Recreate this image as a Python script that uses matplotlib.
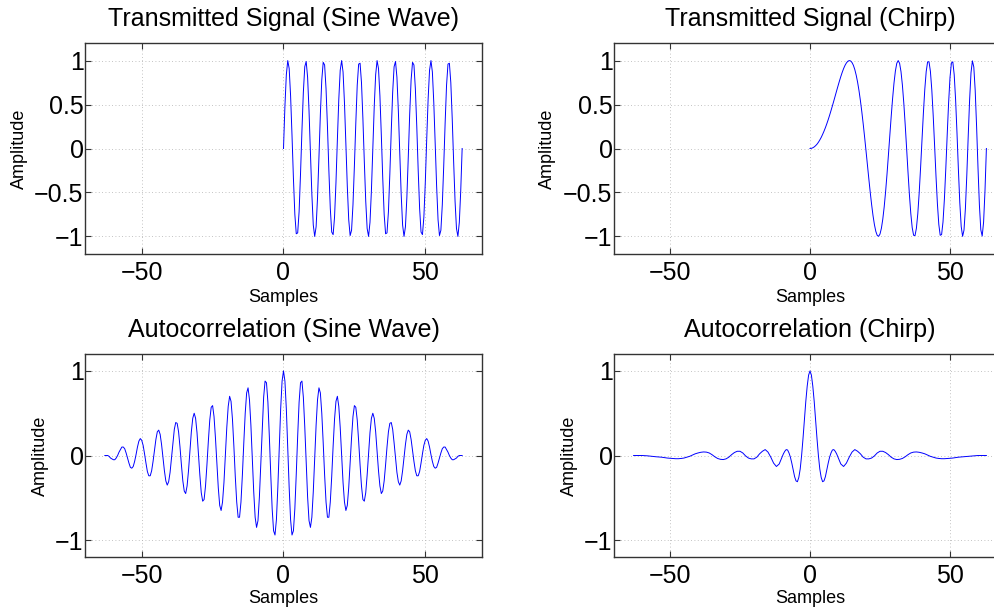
#!/usr/bin/env python3

import numpy as np
import matplotlib
matplotlib.use('Agg')
from matplotlib import pyplot as plt
from matplotlib.ticker import FuncFormatter

plt.rcParams['font.family'] = ['Liberation Sans', 'DejaVu Sans']

# transmitted pulses, read at half-sample steps over samples 0..63
t = np.arange(0, 63.5, 0.5)

sine_tx = [
  0.00, 0.48, 0.84, 1.00, 0.91, 0.60, 0.15, -0.34, -0.75, -0.97,
  -0.96, -0.72, -0.29, 0.20, 0.64, 0.93, 0.99, 0.81, 0.43, -0.05,
  -0.52, -0.87, -1.00, -0.89, -0.56, -0.10, 0.39, 0.78, 0.98, 0.95,
  0.68, 0.25, -0.25, -0.68, -0.95, -0.98, -0.78, -0.39, 0.10, 0.56,
  0.89, 1.00, 0.87, 0.52, 0.05, -0.43, -0.81, -0.99, -0.93, -0.64,
  -0.20, 0.29, 0.72, 0.96, 0.97, 0.75, 0.34, -0.15, -0.60, -0.91,
  -1.00, -0.84, -0.48,
  0.00, 0.48, 0.84, 1.00, 0.91, 0.60, 0.15, -0.34, -0.75, -0.97,
  -0.96, -0.72, -0.29, 0.20, 0.64, 0.93, 0.99, 0.81, 0.43, -0.05,
  -0.52, -0.87, -1.00, -0.89, -0.56, -0.10, 0.39, 0.78, 0.98, 0.95,
  0.68, 0.25, -0.25, -0.68, -0.95, -0.98, -0.78, -0.39, 0.10, 0.56,
  0.89, 1.00, 0.87, 0.52, 0.05, -0.43, -0.81, -0.99, -0.93, -0.64,
  -0.20, 0.29, 0.72, 0.96, 0.97, 0.75, 0.34, -0.15, -0.60, -0.91,
  -1.00, -0.84, -0.48,
  0.00]

chirp_tx = [
  0.000, 0.002, 0.008, 0.018, 0.032, 0.049, 0.071, 0.097, 0.126, 0.160,
  0.197, 0.237, 0.281, 0.328, 0.378, 0.431, 0.485, 0.541, 0.598, 0.655,
  0.711, 0.766, 0.818, 0.866, 0.909, 0.945, 0.973, 0.992, 1.000, 0.996,
  0.978, 0.946, 0.898, 0.834, 0.754, 0.658, 0.545, 0.419, 0.280, 0.131,
  -0.025, -0.184, -0.342, -0.495, -0.636, -0.762, -0.865, -0.942, -0.988, -0.999,
  -0.973, -0.907, -0.803, -0.663, -0.491, -0.293, -0.077, 0.146, 0.365, 0.569,
  0.745, 0.882, 0.970, 1.000, 0.969, 0.874, 0.721, 0.516, 0.271, 0.004,
  -0.268, -0.523, -0.740, -0.900, -0.987, -0.991, -0.907, -0.741, -0.503, -0.215,
  0.098, 0.405, 0.674, 0.875, 0.985, 0.987, 0.878, 0.667, 0.375, 0.034,
  -0.315, -0.628, -0.863, -0.987, -0.979, -0.836, -0.575, -0.229, 0.155, 0.518,
  0.807, 0.973, 0.986, 0.840, 0.555, 0.174, -0.241, -0.617, -0.887, -0.999,
  -0.928, -0.683, -0.305, 0.135, 0.551, 0.861, 0.997, 0.927, 0.660, 0.249,
  -0.219, -0.643, -0.924, -0.996, -0.836, -0.477, 0.000]

# autocorrelations are symmetric: values for lag >= 0 only
sine_acf_half = [
  1.00, 0.88, 0.55, 0.09, -0.38, -0.76, -0.94, -0.89, -0.63, -0.22,
  0.23, 0.63, 0.86, 0.88, 0.69, 0.34, -0.09, -0.49, -0.77, -0.85,
  -0.73, -0.43, -0.04, 0.36, 0.66, 0.80, 0.74, 0.50, 0.15, -0.23,
  -0.55, -0.73, -0.73, -0.55, -0.25, 0.11, 0.43, 0.64, 0.70, 0.58,
  0.33, 0.00, -0.32, -0.55, -0.65, -0.59, -0.38, -0.09, 0.21, 0.46,
  0.59, 0.57, 0.42, 0.17, -0.11, -0.36, -0.52, -0.54, -0.44, -0.23,
  0.02, 0.27, 0.44, 0.50, 0.44, 0.28, 0.05, -0.18, -0.36, -0.45,
  -0.42, -0.30, -0.11, 0.10, 0.28, 0.38, 0.39, 0.31, 0.15, -0.03,
  -0.20, -0.31, -0.35, -0.30, -0.18, -0.02, 0.13, 0.25, 0.30, 0.28,
  0.19, 0.06, -0.07, -0.18, -0.24, -0.24, -0.19, -0.09, 0.02, 0.12,
  0.18, 0.20, 0.17, 0.10, 0.01, -0.07, -0.13, -0.15, -0.14, -0.09,
  -0.03, 0.03, 0.08, 0.10, 0.10, 0.07, 0.04, 0.00, -0.03, -0.05,
  -0.05, -0.04, -0.03, -0.01, 0.00, 0.00, 0.00]
sine_lag_half = np.arange(0, 63.5, 0.5)

chirp_lag_half = np.r_[np.arange(0, 10.5, 0.5), np.arange(11, 64)]
chirp_acf_half = [
  1.00, 0.95, 0.82, 0.64, 0.42, 0.20, 0.00, -0.16, -0.26, -0.31,
  -0.30, -0.25, -0.17, -0.09, -0.02, 0.03, 0.065, 0.07, 0.05, 0.02,
  -0.02,
  -0.10, -0.13, -0.09, -0.02, 0.04, 0.07, 0.05, 0.02, -0.02, -0.04,
  -0.04, -0.03, -0.005, 0.03, 0.05, 0.05, 0.035, 0.01, -0.02, -0.04,
  -0.048, -0.045, -0.035, -0.015, 0.01, 0.03, 0.04, 0.042, 0.038, 0.03,
  0.02, 0.005, -0.01, -0.02, -0.03, -0.035, -0.038, -0.038, -0.036, -0.033,
  -0.03, -0.025, -0.02, -0.017, -0.015, -0.012, -0.008, -0.004, -0.002, 0.0,
  0.0, 0.0, 0.0]

titles = ['Transmitted Signal (Sine Wave)', 'Transmitted Signal (Chirp)',
          'Autocorrelation (Sine Wave)', 'Autocorrelation (Chirp)']


def mirror(lag, val):
  lag = np.asarray(lag, dtype=float)
  val = np.asarray(val, dtype=float)
  return np.r_[-lag[:0:-1], lag], np.r_[val[:0:-1], val]


sine_lag, sine_acf = mirror(sine_lag_half, sine_acf_half)
chirp_lag, chirp_acf = mirror(chirp_lag_half, chirp_acf_half)

series = [(t, sine_tx), (t, chirp_tx), (sine_lag, sine_acf), (chirp_lag, chirp_acf)]
yticks = [[-1, -0.5, 0, 0.5, 1], [-1, -0.5, 0, 0.5, 1], [-1, 0, 1], [-1, 0, 1]]
ylab_x = [-0.166, -0.170, -0.112, -0.114]

W, H = 995.0, 610.0
# axes boxes in pixels: left, top, width, height (right column runs off the page)
boxes = [(85, 43, 397, 211), (614, 43, 392, 211),
         (85, 354, 397, 203), (614, 354, 392, 203)]

fig = plt.figure(figsize=(W / 100, H / 100), dpi=100)
fmt = FuncFormatter(lambda v, p: ('%g' % v).replace('-', '\u2212'))

for i in range(4):
  l, tp, w, h = boxes[i]
  ax = fig.add_axes([l / W, 1 - (tp + h) / H, w / W, h / H])
  x, y = series[i]
  ax.plot(x, y, color='#0000ff', lw=0.7)
  ax.set_xlim(-70, 70)
  ax.set_ylim(-1.2, 1.2)
  ax.set_xticks([-50, 0, 50])
  ax.set_yticks(yticks[i])
  ax.xaxis.set_major_formatter(fmt)
  ax.yaxis.set_major_formatter(fmt)
  ax.tick_params(direction='in', length=4, width=0.8, top=True, right=True,
                 labelsize=18, color='#333333')
  ax.tick_params(axis='x', pad=5)
  ax.tick_params(axis='y', pad=1)
  ax.grid(True, color='#b0b0b0', linestyle=(0, (1, 3)), linewidth=0.6)
  for s in ax.spines.values():
    s.set_linewidth(1.0)
    s.set_color('#333333')
  ax.set_title(titles[i], fontsize=18, pad=12)
  ax.set_xlabel('Samples', fontsize=13, va='baseline')
  ax.xaxis.set_label_coords(0.5, -0.228)
  ax.set_ylabel('Amplitude', fontsize=13, va='center')
  ax.yaxis.set_label_coords(ylab_x[i], 0.5)

plt.savefig('out.png', dpi=100)
